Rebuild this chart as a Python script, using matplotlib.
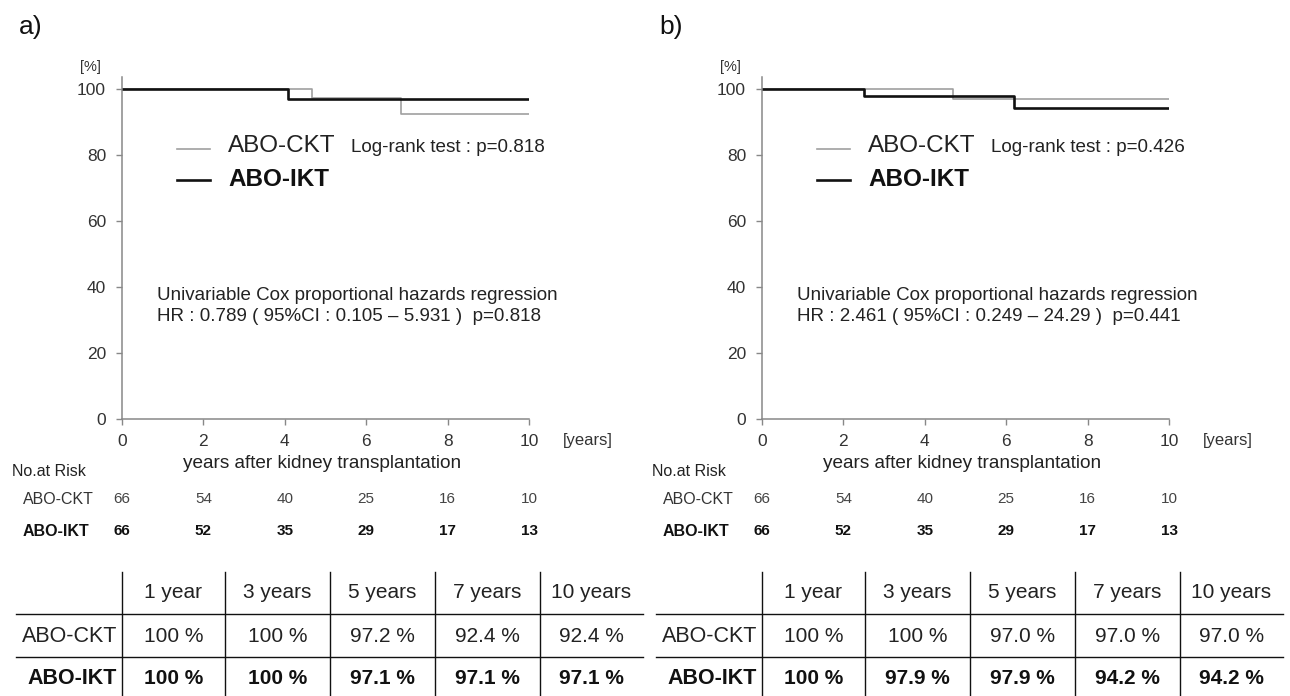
import matplotlib
matplotlib.use('Agg')
import matplotlib.pyplot as plt
from matplotlib import transforms

plt.rcParams['font.family'] = ['Liberation Sans', 'DejaVu Sans']

W, H = 1290, 696

# survival curves (years, %)
a_ckt_t = [0, 4.67, 6.86, 10]
a_ckt_s = [100, 97.2, 92.4, 92.4]
a_ikt_t = [0, 4.08, 10]
a_ikt_s = [100, 97.1, 97.1]

b_ckt_t = [0, 4.70, 10]
b_ckt_s = [100, 97.0, 97.0]
b_ikt_t = [0, 2.50, 6.18, 10]
b_ikt_s = [100, 97.9, 94.2, 94.2]

# number at risk
risk_years = [0, 2, 4, 6, 8, 10]
a_risk_ckt = [66, 54, 40, 25, 16, 10]
a_risk_ikt = [66, 52, 35, 29, 17, 13]
b_risk_ckt = [66, 54, 40, 25, 16, 10]
b_risk_ikt = [66, 52, 35, 29, 17, 13]

# survival table
col_labels = ['1 year', '3 years', '5 years', '7 years', '10 years']
a_tab_ckt = ['100 %', '100 %', '97.2 %', '92.4 %', '92.4 %']
a_tab_ikt = ['100 %', '100 %', '97.1 %', '97.1 %', '97.1 %']
b_tab_ckt = ['100 %', '100 %', '97.0 %', '97.0 %', '97.0 %']
b_tab_ikt = ['100 %', '97.9 %', '97.9 %', '94.2 %', '94.2 %']

a_logrank = 'Log-rank test : p=0.818'
b_logrank = 'Log-rank test : p=0.426'
a_cox = 'HR : 0.789 ( 95%CI : 0.105 \u2013 5.931 )  p=0.818'
b_cox = 'HR : 2.461 ( 95%CI : 0.249 \u2013 24.29 )  p=0.441'

GRAY = '#a0a0a0'
BLACK = '#111111'
TXT = '#222222'


def fx(x):
    return x / W


def fy(y):
    return 1 - y / H


fig = plt.figure(figsize=(W / 100, H / 100), dpi=100)


def panel(dx, label, ckt_t, ckt_s, ikt_t, ikt_s, risk_ckt, risk_ikt,
          tab_ckt, tab_ikt, logrank, cox):
    ax = fig.add_axes([fx(122 + dx), fy(419), 407 / W, (419 - 77) / H])
    ax.step(ckt_t, ckt_s, where='post', color=GRAY, lw=1.2)
    ax.step(ikt_t, ikt_s, where='post', color=BLACK, lw=1.9)
    ax.set_xlim(0, 10)
    ax.set_ylim(0, 100 * (419 - 77) / 330)
    ax.set_xticks(range(0, 11, 2))
    ax.set_yticks(range(0, 101, 20))
    for s in ['top', 'right']:
        ax.spines[s].set_visible(False)
    for s in ['left', 'bottom']:
        ax.spines[s].set_color('#888888')
        ax.spines[s].set_linewidth(1.1)
    ax.tick_params(axis='both', colors='#888888', length=4.5, width=1.0,
                   labelcolor='#333333', labelsize=12.5)
    ax.tick_params(axis='x', pad=6)
    ax.tick_params(axis='y', pad=7)

    # legend
    fig.add_artist(plt.Line2D([fx(177 + dx), fx(210 + dx)], [fy(149), fy(149)],
                              color=GRAY, lw=1.2))
    fig.add_artist(plt.Line2D([fx(177 + dx), fx(210 + dx)], [fy(180), fy(180)],
                              color=BLACK, lw=1.9))
    fig.text(fx(228 + dx), fy(146), 'ABO-CKT', fontsize=17.5, color=TXT,
             va='center')
    fig.text(fx(228 + dx), fy(179), 'ABO-IKT', fontsize=17.5, color=BLACK,
             va='center', fontweight='bold')
    fig.text(fx(351 + dx), fy(147), logrank, fontsize=13.6, color=TXT,
             va='center')
    fig.text(fx(157 + dx), fy(295), 'Univariable Cox proportional hazards regression',
             fontsize=13.5, color=TXT, va='center')
    fig.text(fx(157 + dx), fy(316), cox, fontsize=13.5, color=TXT, va='center')

    fig.text(fx(19 + dx), fy(27), label, fontsize=19, color=BLACK, va='center')
    fig.text(fx(80 + dx), fy(67), '[%]', fontsize=10.5, color='#333333',
             va='center')
    fig.text(fx(563 + dx), fy(441), '[years]', fontsize=12, color='#333333',
             va='center')
    fig.text(fx(322 + dx), fy(463), 'years after kidney transplantation',
             fontsize=13.7, color=TXT, va='center', ha='center')

    # number at risk
    fig.text(fx(12 + dx), fy(472), 'No.at Risk', fontsize=11.5, color=TXT,
             va='center')
    fig.text(fx(23 + dx), fy(499), 'ABO-CKT', fontsize=11.5, color='#333333',
             va='center')
    fig.text(fx(23 + dx), fy(531), 'ABO-IKT', fontsize=11.5, color=BLACK,
             va='center', fontweight='bold')
    tr = transforms.blended_transform_factory(ax.transData, fig.transFigure)
    for yr, c, i in zip(risk_years, risk_ckt, risk_ikt):
        fig.text(yr, fy(499), str(c), transform=tr, fontsize=11,
                 color='#444444', ha='center', va='center')
        fig.text(yr, fy(531), str(i), transform=tr, fontsize=11,
                 color=BLACK, ha='center', va='center', fontweight='bold')

    # survival table
    vx = [122, 225, 330, 435, 540]
    right = 643
    for x in vx:
        fig.add_artist(plt.Line2D([fx(x + dx)] * 2, [fy(572), fy(696)],
                                  color=BLACK, lw=1.0))
    for y in [614, 657]:
        fig.add_artist(plt.Line2D([fx(16 + dx), fx(right + dx)], [fy(y)] * 2,
                                  color=BLACK, lw=1.0))
    edges = vx + [right]
    for k, lab in enumerate(col_labels):
        cx = (edges[k] + edges[k + 1]) / 2 + dx
        fig.text(fx(cx), fy(593), lab, fontsize=15, color=TXT,
                 ha='center', va='center')
        fig.text(fx(cx), fy(637), tab_ckt[k], fontsize=15, color=TXT,
                 ha='center', va='center')
        fig.text(fx(cx), fy(679), tab_ikt[k], fontsize=15, color=BLACK,
                 ha='center', va='center', fontweight='bold')
    fig.text(fx(117 + dx), fy(637), 'ABO-CKT', fontsize=15.5, color=TXT,
             ha='right', va='center')
    fig.text(fx(117 + dx), fy(679), 'ABO-IKT', fontsize=15.5, color=BLACK,
             ha='right', va='center', fontweight='bold')
    return ax


panel(0, 'a)', a_ckt_t, a_ckt_s, a_ikt_t, a_ikt_s, a_risk_ckt, a_risk_ikt,
      a_tab_ckt, a_tab_ikt, a_logrank, a_cox)
panel(640, 'b)', b_ckt_t, b_ckt_s, b_ikt_t, b_ikt_s, b_risk_ckt, b_risk_ikt,
      b_tab_ckt, b_tab_ikt, b_logrank, b_cox)

fig.savefig('out.png', dpi=100)
plt.close(fig)
